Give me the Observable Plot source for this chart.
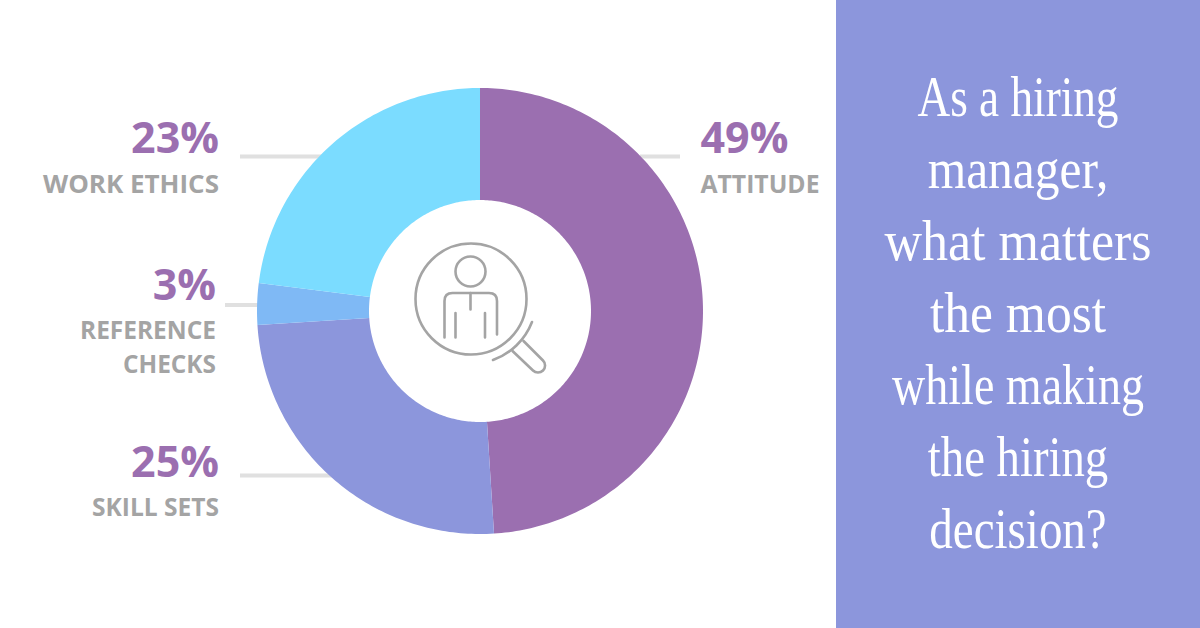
<!DOCTYPE html>
<html>
<head>
<meta charset="utf-8">
<script src="https://cdn.jsdelivr.net/npm/d3@7"></script>
<script src="https://cdn.jsdelivr.net/npm/@observablehq/plot@0.6"></script>
<style>html,body{margin:0;padding:0;background:#fff;overflow:hidden}svg{display:block}</style>
</head>
<body>
<div id="chart"></div>
<script>
const categories = ["ATTITUDE", "SKILL SETS", "REFERENCE CHECKS", "WORK ETHICS"];
const shares = [49, 25, 3, 23];
const sliceColors = ["#9b6fb0", "#8c96dc", "#7fb9f5", "#7bdcff"];
const questionLines = ["As a hiring", "manager,", "what matters", "the most", "while making", "the hiring", "decision?"];

const purple = "#9b6fb0", grey = "#a4a4a4", ruleGrey = "#e0e0e0", panel = "#8c96dc";
const cx = 479.5, cy = 310.5, rOuter = 223, rInner = 111;

// Build each donut slice as a polygon from its share
const arcs = d3.pie().sort(null).value(d => d)(shares);
const polygons = arcs.flatMap((a, i) => {
  const n = Math.max(8, Math.round((a.endAngle - a.startAngle) * 60));
  const pts = [];
  for (let k = 0; k <= n; k++) {
    const t = a.startAngle + (a.endAngle - a.startAngle) * k / n;
    pts.push({i, x: cx + rOuter * Math.sin(t), y: cy - rOuter * Math.cos(t)});
  }
  for (let k = n; k >= 0; k--) {
    const t = a.startAngle + (a.endAngle - a.startAngle) * k / n;
    pts.push({i, x: cx + rInner * Math.sin(t), y: cy - rInner * Math.cos(t)});
  }
  return pts;
});

const leaders = [
  {x1: 640, x2: 680, y: 156},
  {x1: 240, x2: 335, y: 475},
  {x1: 225, x2: 265, y: 304.5},
  {x1: 240, x2: 325, y: 156}
];
const labelSpots = [
  {x: 700, anchor: "start", pct: 152, lines: [192]},
  {x: 218.5, anchor: "end", pct: 476, lines: [515]},
  {x: 215.5, anchor: "end", pct: 299, lines: [338, 372]},
  {x: 218.5, anchor: "end", pct: 152, lines: [192]}
];
const nameWidths = {"ATTITUDE": 119, "SKILL SETS": 127, "REFERENCE": 136, "CHECKS": 93, "WORK ETHICS": 176};
const pctRows = shares.map((v, i) => ({text: v + "%", x: labelSpots[i].x, y: labelSpots[i].pct, anchor: labelSpots[i].anchor}));
const nameRows = categories.flatMap((c, i) => {
  const parts = c === "REFERENCE CHECKS" ? ["REFERENCE", "CHECKS"] : [c];
  return parts.map((p, j) => ({text: p, x: labelSpots[i].x, y: labelSpots[i].lines[j], anchor: labelSpots[i].anchor}));
});
const byAnchor = (rows, a) => rows.filter(r => r.anchor === a);
const panelX = 1017.5;
const lineSqueeze = [0.78, 0.853, 0.897, 0.889, 0.794, 0.806, 0.81];

const icon = () => {
  const g = d3.create("svg:g").attr("fill", "none").attr("stroke", grey).attr("stroke-width", 2.6).attr("stroke-linecap", "round").attr("stroke-linejoin", "round");
  g.append("circle").attr("cx", 471).attr("cy", 299).attr("r", 55.5);
  g.append("circle").attr("cx", 470.5).attr("cy", 271.5).attr("r", 15);
  g.append("path").attr("d", "M444.5 337.5V301Q444.5 293 452.5 293H489Q497 293 497 301V334.5");
  g.append("path").attr("d", "M470.5 293V309.5M455.5 313V337.5M485 313V337.5");
  g.append("path").attr("d", "M532 322A65.5 65.5 0 0 1 493 360");
  g.append("path").attr("d", "M523.5 341L543 360.5A7 7 0 0 1 533 370.5L512.5 351");
  return g.node();
};

const squeezeLines = (index, scales, values, dimensions, context, next) => {
  const g = next(index, scales, values, dimensions, context);
  g.querySelectorAll("text").forEach((t, i) => {
    t.setAttribute("transform", `${t.getAttribute("transform") || ""} scale(${lineSqueeze[i]},1)`);
  });
  return g;
};
const fitNames = (index, scales, values, dimensions, context, next) => {
  const g = next(index, scales, values, dimensions, context);
  g.querySelectorAll("text").forEach(t => {
    t.setAttribute("textLength", nameWidths[t.textContent]);
    t.setAttribute("lengthAdjust", "spacingAndGlyphs");
  });
  return g;
};

const textMark = (rows, anchor, options) => Plot.text(byAnchor(rows, anchor), {
  x: "x", y: "y", text: "text", textAnchor: anchor, lineAnchor: "bottom",
  fontFamily: "'Open Sans'", fontWeight: 700, ...options
});

const chart = Plot.plot({
  width: 1200, height: 628,
  margin: 0,
  style: {background: "#ffffff"},
  x: {domain: [0, 1200], range: [0, 1200], axis: null},
  y: {domain: [0, 628], range: [0, 628], axis: null},
  marks: [
    Plot.rect([0], {x1: () => 836, x2: () => 1200, y1: () => 0, y2: () => 628, fill: panel}),
    Plot.ruleY(leaders, {x1: "x1", x2: "x2", y: "y", stroke: ruleGrey, strokeWidth: 4}),
    Plot.line(polygons, {x: "x", y: "y", z: "i", fill: d => sliceColors[d.i], stroke: null, curve: "linear-closed"}),
    icon,
    textMark(pctRows, "end", {fontSize: 43, fill: purple}),
    textMark(pctRows, "start", {fontSize: 43, fill: purple}),
    textMark(nameRows, "end", {fontSize: 25, fill: grey, render: fitNames}),
    textMark(nameRows, "start", {fontSize: 25, fill: grey, render: fitNames}),
    Plot.text(questionLines, {
      x: () => panelX,
      y: (d, i) => 115 + 72 * i,
      text: d => d,
      textAnchor: "middle", lineAnchor: "bottom",
      fontFamily: "'Liberation Serif'", fontSize: 58, fill: "#ffffff",
      render: squeezeLines
    })
  ]
});
document.getElementById("chart").appendChild(chart);
</script>
</body>
</html>
